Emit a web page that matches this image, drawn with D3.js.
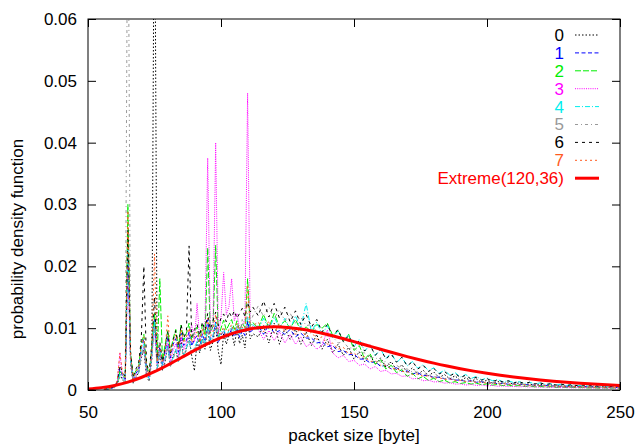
<!DOCTYPE html>
<html>
<head>
<meta charset="utf-8">
<script src="https://cdnjs.cloudflare.com/ajax/libs/d3/7.8.5/d3.min.js"></script>
<style>
body{margin:0;background:#fff;}
svg text{font-family:"Liberation Sans",Arial,Helvetica,sans-serif;font-size:17px;}
</style>
</head>
<body>
<svg id="chart"></svg>
<script>
// packet sizes (bytes) of the histogram bins
var sizes=[56,57,58,59,60,61,62,63,64,65,
  66,67,68,69,70,71,72,73,74,75,
  76,77,78,79,80,81,82,83,84,85,
  86,87,88,89,90,91,92,93,94,95,
  96,97,98,99,100,101,102,103,104,105,
  106,107,108,109,110,111,112,
  114,116,118,120,122,124,126,128,130,132,
  134,136,138,140,142,144,146,148,150,152,
  154,156,158,160,162,164,166,168,170,172,
  174,176,178,180,182,184,186,188,190,192,
  194,196,198,200,202,204,206,208,210,212,
  214,216,218,220,222,224,226,228,230,232,
  234,236,238,240,242,244,246,248,250];

// densities, in units of 1e-3
var s0=[0,0.1,0.2,0.3,0.4,0.8,2.5,1.6,1.2,25,
  4.2,1.1,2.0,2.8,5.1,6.5,2.2,1.4,5.0,90,
  3.1,5.8,3.2,4.5,7.2,3.8,5.5,6.4,4.8,8.1,
  5.2,6.9,8.4,5.5,3.1,7.8,6.0,8.2,6.6,10.1,
  6.4,7.9,10.4,6.2,4.1,9.2,7.4,8.8,9.5,7.2,
  9.8,7.5,8.9,6.8,11.2,8.3,9.1,
  8.6,10.4,7.6,10.8,7.4,9.9,8.2,9.8,7.4,9.4,
  7.2,9.0,6.6,8.2,6.0,7.4,5.6,6.9,5.0,6.2,
  4.6,5.7,4.1,5.2,3.7,4.6,3.2,4.1,2.8,3.6,
  2.5,3.2,2.3,2.9,2.0,2.5,1.8,2.3,1.5,2.0,
  1.4,1.8,1.2,1.6,1.1,1.4,1.0,1.3,0.9,1.15,
  0.8,1.0,0.7,0.95,0.65,0.85,0.6,0.8,0.55,0.7,
  0.5,0.65,0.45,0.6,0.4,0.55,0.38,0.5,0.35];
var s1=[0.1,0.1,0.2,0.3,0.5,1.2,3.4,2.2,1.8,22,
  5.5,1.6,2.7,3.3,6.8,8.2,3.5,2.1,6.2,11.5,
  4.4,7.0,4.1,6.3,8.6,5.2,7.4,8.3,6.1,9.2,
  7.2,8.0,9.4,7.1,8.2,8.8,6.9,9.1,7.8,11.4,
  8.1,8.7,11.0,7.6,8.9,9.6,8.4,9.0,9.8,8.6,
  9.9,8.5,9.6,8.8,11.0,9.4,9.7,
  10.4,9.0,10.6,9.2,9.6,9.0,9.8,8.6,9.2,8.4,
  8.4,7.6,7.8,7.0,7.2,6.2,6.4,5.7,5.8,5.0,
  5.0,4.4,4.6,3.8,4.0,3.4,3.6,3.0,3.1,2.6,
  2.8,2.3,2.4,2.0,2.1,1.8,1.8,1.6,1.6,1.4,
  1.5,1.25,1.35,1.1,1.2,1.0,1.1,0.92,0.98,0.84,
  0.92,0.78,0.82,0.7,0.76,0.64,0.68,0.58,0.62,0.54,
  0.58,0.5,0.54,0.46,0.5,0.43,0.47,0.41,0.44];
var s2=[0.1,0.2,0.2,0.4,0.6,1.1,3.0,2.4,2.0,30,
  6.0,2.2,3.1,3.6,7.4,9.0,4.0,2.6,7.0,12.5,
  5.0,18,4.8,7.4,9.6,6.1,8.3,9.8,6.9,10.5,
  8.0,9.2,10.8,8.1,9.3,10.2,7.8,10.6,8.8,23,
  9.2,10.3,23.4,8.5,10.0,11.3,9.7,10.6,11.4,9.8,
  11.2,9.6,10.8,10.1,18,10.4,10.9,
  10.0,12.2,10.0,12.4,10.2,11.2,10.0,11.4,9.6,10.2,
  9.4,10.6,10.0,10.8,8.8,9.6,7.9,9.0,6.4,7.2,
  5.0,5.9,4.2,4.9,3.4,4.0,2.8,3.3,2.2,2.7,
  1.8,2.2,1.55,1.9,1.35,1.6,1.15,1.35,1.05,1.2,
  0.95,1.1,0.85,1.0,0.78,0.9,0.7,0.8,0.62,0.72,
  0.56,0.66,0.5,0.6,0.46,0.54,0.42,0.5,0.38,0.44,
  0.35,0.4,0.32,0.38,0.3,0.35,0.28,0.32,0.26];
var s3=[0.1,0.1,0.3,0.3,0.5,1.3,6.0,2.0,1.6,20,
  4.6,1.3,2.3,2.9,5.5,7.0,2.8,1.8,5.4,10,
  3.6,6.2,3.5,5.4,7.6,4.5,6.4,7.5,5.3,8.6,
  6.5,7.6,9.0,10.5,7.8,14,8.2,9.5,10.8,37.5,
  9.4,10.2,40,9.0,11.6,19,12.2,13.5,18,11.2,
  12.4,9.8,10.6,11.4,48,9.6,10.3,
  9.8,8.2,9.6,8.0,9.4,7.6,9.0,7.4,8.6,7.0,
  7.6,6.6,7.2,9.7,6.0,5.2,5.6,4.6,4.8,4.0,
  4.2,3.4,3.8,3.0,3.2,2.6,2.7,2.2,2.3,1.8,
  1.9,1.5,1.6,1.3,1.35,1.1,1.2,0.95,1.0,0.8,
  0.9,0.74,0.82,0.66,0.74,0.6,0.68,0.54,0.6,0.5,
  0.57,0.47,0.53,0.43,0.5,0.4,0.46,0.37,0.42,0.35,
  0.4,0.33,0.37,0.31,0.35,0.29,0.33,0.28,0.3];
var s4=[0.1,0.2,0.2,0.3,0.5,1.0,2.6,1.9,1.5,23,
  4.8,1.4,2.4,2.7,5.8,7.4,3.0,1.7,5.6,11,
  3.5,6.4,3.9,5.1,7.1,4.0,5.2,6.6,4.6,7.4,
  5.6,6.8,8.1,6.0,6.9,7.8,6.4,8.6,7.5,10.1,
  7.9,8.8,10.8,8.3,9.4,9.9,8.7,9.6,10.3,9.1,
  10.4,8.9,10.1,9.3,11.8,10.0,10.6,
  9.6,11.6,9.8,11.8,10.0,11.6,9.8,12.0,10.0,14,
  9.4,11.0,9.0,10.4,8.4,9.6,7.8,9.0,7.0,8.2,
  6.3,7.3,5.6,6.6,5.1,6.0,4.4,5.3,3.9,4.6,
  3.5,4.1,3.1,3.6,2.7,3.2,2.4,2.8,2.1,2.5,
  1.85,2.2,1.65,1.95,1.5,1.7,1.3,1.5,1.2,1.35,
  1.05,1.25,0.98,1.15,0.88,1.02,0.8,0.94,0.74,0.86,
  0.68,0.8,0.63,0.74,0.58,0.68,0.55,0.62,0.52];
var s5=[0.1,0.1,0.2,0.3,0.4,0.9,2.2,1.7,1.3,90,
  4.4,1.2,2.2,2.6,5.4,7.0,2.6,1.5,5.2,10.4,
  3.3,6.0,3.6,4.8,6.7,3.8,5.0,6.2,4.4,7.1,
  5.4,6.4,7.8,5.8,6.6,7.4,6.1,8.2,7.2,9.6,
  7.6,8.4,10.2,8.0,9.0,9.5,8.4,9.3,10.0,9.0,
  10.6,9.2,11.4,10.0,12.4,11.0,12.0,
  13.6,11.9,13.4,11.6,13.0,11.2,12.4,10.8,11.8,10.4,
  10.6,9.4,9.6,8.6,8.6,7.6,7.8,6.8,6.8,6.0,
  6.0,5.2,5.3,4.5,4.6,3.9,4.0,3.4,3.4,2.9,
  2.9,2.5,2.6,2.1,2.2,1.85,1.95,1.65,1.7,1.45,
  1.5,1.28,1.36,1.16,1.22,1.02,1.1,0.92,0.98,0.82,
  0.9,0.76,0.83,0.7,0.76,0.64,0.7,0.58,0.62,0.53,
  0.58,0.5,0.54,0.46,0.5,0.43,0.47,0.4,0.42];
var s6=[0.1,0.2,0.3,0.4,0.6,1.4,4.0,2.8,2.2,26,
  6.2,2.0,3.4,4.2,8.0,20,4.4,2.8,7.6,15,
  5.2,7.8,4.6,6.8,9.4,6.0,8.0,9.6,7.0,10.6,
  8.4,9.6,23.3,8.6,9.8,10.6,8.8,11.0,9.6,12.4,
  9.8,11.2,12.6,10.4,11.6,12.3,11.0,12.6,11.8,12.8,
  11.6,12.4,13.2,11.8,14.2,12.6,13.4,
  12.0,14.4,11.8,14.0,11.6,13.4,11.0,12.8,10.6,12.2,
  10.2,11.4,9.4,10.6,8.7,9.8,7.8,8.8,7.0,8.0,
  6.3,7.3,5.6,6.6,5.0,5.8,4.5,5.3,3.9,4.6,
  3.4,4.0,3.0,3.5,2.6,3.0,2.3,2.7,2.0,2.4,
  1.75,2.05,1.6,1.85,1.4,1.6,1.3,1.5,1.15,1.35,
  1.05,1.25,0.98,1.15,0.88,1.02,0.8,0.94,0.74,0.86,
  0.7,0.8,0.65,0.74,0.6,0.7,0.56,0.64,0.52];
var s7=[0.1,0.2,0.2,0.4,0.6,1.5,6.0,2.6,2.0,29,
  5.6,1.8,2.9,3.5,6.9,8.6,3.7,2.3,6.6,22,
  4.6,7.2,4.4,6.2,12,5.6,7.6,9.0,6.4,9.8,
  7.6,8.6,10.0,7.6,8.6,9.4,7.2,9.8,8.4,11.6,
  8.6,9.4,12.2,8.0,9.2,10.2,9.0,9.8,10.6,9.2,
  10.8,9.0,10.2,9.4,17,9.8,10.4,
  11.0,9.4,11.2,9.2,10.8,9.4,10.4,9.0,10.0,8.6,
  9.4,8.2,8.6,7.4,7.6,6.6,6.9,5.8,6.0,5.2,
  5.4,4.6,4.7,4.0,4.0,3.4,3.5,3.0,3.0,2.5,
  2.6,2.2,2.3,1.9,2.0,1.7,1.8,1.5,1.55,1.35,
  1.42,1.22,1.28,1.08,1.12,0.98,1.03,0.9,0.93,0.82,
  0.86,0.74,0.78,0.68,0.72,0.62,0.66,0.57,0.6,0.52,
  0.56,0.48,0.52,0.44,0.49,0.42,0.45,0.4,0.37];

// Extreme(120,36) curve, read every 5 bytes
var extremeX=[50,55,60,65,70,75,80,85,90,95,100,105,110,115,120,125,130,135,140,145,150,
  155,160,165,170,175,180,185,190,195,200,205,210,215,220,225,230,235,240,245,250];
var extremeY=[0.00018,0.000385,0.000738,0.001277,0.002019,0.002958,0.004045,0.005219,0.0064,0.007508,
  0.008475,0.009245,0.009794,0.010116,0.010219,0.010126,0.009865,0.009472,0.008978,0.00842,0.007817,
  0.007197,0.00658,0.005975,0.005397,0.004853,0.004342,0.003875,0.003444,0.003053,0.0027,
  0.002384,0.0021,0.001847,0.001623,0.001424,0.001248,0.001093,0.000956,0.000836,0.000731];

var names=["0","1","2","3","4","5","6","7"];
var colors=["#000000","#0000ff","#00ee00","#ff00ff","#00eeee","#999999","#000000","#ff5a1e"];
var dashes=["1.5,2","4,2.5","6,2","1,1.2","5,2,1,2","3,3,1,3","3,4","2,3"];
var xTicks=[50,100,150,200,250];
var yTicks=[0,0.01,0.02,0.03,0.04,0.05,0.06];

var W=635,H=447;
var margin={left:88,right:15,top:19,bottom:57};
var series=[s0,s1,s2,s3,s4,s5,s6,s7];

var svg=d3.select("#chart").attr("width",W).attr("height",H);

var xScale=d3.scaleLinear().domain([50,250]).range([margin.left,W-margin.right]);
var yScale=d3.scaleLinear().domain([0,0.06]).range([H-margin.bottom,margin.top]);

svg.append("defs").append("clipPath").attr("id","clip")
  .append("rect")
  .attr("x",margin.left).attr("y",margin.top)
  .attr("width",W-margin.left-margin.right)
  .attr("height",H-margin.top-margin.bottom);

var line=d3.line()
  .x(function(d){return xScale(d[0]);})
  .y(function(d){return yScale(d[1]);});

var plot=svg.append("g").attr("clip-path","url(#clip)");

series.forEach(function(s,k){
  var pts=sizes.map(function(x,i){return [x,s[i]/1000];});
  plot.append("path")
    .datum(pts)
    .attr("fill","none")
    .attr("stroke",colors[k])
    .attr("stroke-width",1)
    .attr("stroke-dasharray",dashes[k])
    .attr("d",line);
});

plot.append("path")
  .datum(extremeX.map(function(x,i){return [x,extremeY[i]];}))
  .attr("fill","none")
  .attr("stroke","#ff0000")
  .attr("stroke-width",3)
  .attr("d",line.curve(d3.curveMonotoneX));

// axes, ticks inward and mirrored
var fmt=function(d){return d===0?"0":d3.format(".2f")(d);};
svg.append("g")
  .attr("transform","translate("+margin.left+",0)")
  .call(d3.axisLeft(yScale).tickValues(yTicks).tickFormat(fmt).tickSize(-8).tickSizeOuter(0).tickPadding(11));
svg.append("g")
  .attr("transform","translate("+(W-margin.right)+",0)")
  .call(d3.axisRight(yScale).tickValues(yTicks).tickFormat("").tickSize(-8).tickSizeOuter(0));
svg.append("g")
  .attr("transform","translate(0,"+(H-margin.bottom)+")")
  .call(d3.axisBottom(xScale).tickValues(xTicks).tickSize(-8).tickSizeOuter(0).tickPadding(16));
svg.append("g")
  .attr("transform","translate(0,"+margin.top+")")
  .call(d3.axisTop(xScale).tickValues(xTicks).tickFormat("").tickSize(-8).tickSizeOuter(0));

svg.selectAll(".tick text").attr("font-size",17).attr("fill","#000")
  .attr("font-family","'Liberation Sans',Arial,sans-serif");
svg.selectAll(".domain").remove();

svg.append("rect")
  .attr("x",margin.left).attr("y",margin.top)
  .attr("width",W-margin.left-margin.right)
  .attr("height",H-margin.top-margin.bottom)
  .attr("fill","none").attr("stroke","#000").attr("stroke-width",1);

svg.append("text")
  .attr("x",(margin.left+W-margin.right)/2)
  .attr("y",441)
  .attr("text-anchor","middle")
  .text("packet size [byte]");
svg.append("text")
  .attr("transform","translate(23,239) rotate(-90)")
  .attr("text-anchor","middle")
  .text("probability density function");

// legend
var legNames=names.concat(["Extreme(120,36)"]);
var legColors=colors.concat(["#ff0000"]);
var leg=svg.append("g").selectAll("g")
  .data(legNames)
  .enter()
  .append("g")
  .attr("transform",function(d,i){return "translate(0,"+(35+i*17.9)+")";});
leg.append("text")
  .attr("x",564)
  .attr("dy","0.35em")
  .attr("text-anchor","end")
  .attr("fill",function(d,i){return legColors[i];})
  .text(function(d){return d;});
leg.append("line")
  .attr("x1",575).attr("x2",599)
  .attr("stroke",function(d,i){return legColors[i];})
  .attr("stroke-width",function(d,i){return i==8?3:1;})
  .attr("stroke-dasharray",function(d,i){return i==8?null:dashes[i];});
</script>
</body>
</html>
